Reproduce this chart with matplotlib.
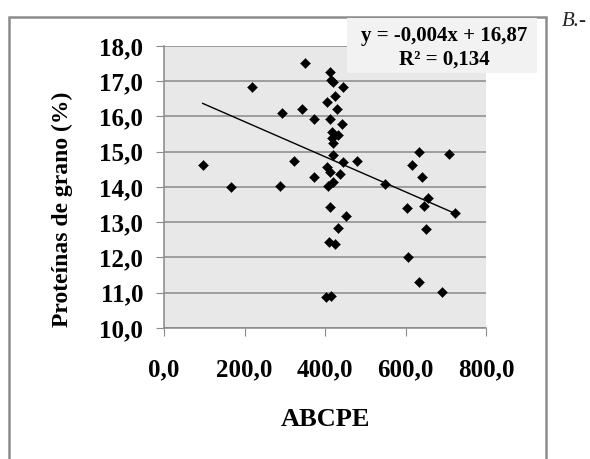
"""Proteínas de grano vs ABCPE, dispersión con línea de tendencia (panel B)."""

import matplotlib
matplotlib.use("Agg")
import matplotlib.pyplot as plt
import numpy as np
from matplotlib.patches import Rectangle
from matplotlib.ticker import FuncFormatter, MultipleLocator

# valores
abcpe = [96, 166, 218, 288, 294, 323, 342, 350, 373, 373,
         402, 404, 404, 408, 410, 412, 412, 412, 412, 414,
         415, 417, 417, 419, 421, 421, 421, 425, 425, 429,
         431, 433, 436, 441, 444, 445, 451, 480, 549, 604,
         607, 617, 634, 634, 642, 646, 650, 657, 690, 708, 723]
proteinas = [14.63, 14.01, 16.85, 14.04, 16.09, 14.74, 16.20, 17.51, 15.93, 14.27,
             10.87, 16.42, 14.58, 14.03, 12.45, 17.27, 15.93, 14.43, 13.42, 10.91,
             17.04, 15.57, 15.38, 16.99, 15.24, 14.91, 14.15, 16.59, 12.38, 16.20,
             12.83, 15.48, 14.37, 15.79, 16.85, 14.72, 13.18, 14.75, 14.09, 13.40,
             12.01, 14.63, 15.00, 11.31, 14.28, 13.46, 12.81, 13.68, 11.01, 14.93, 13.25]

# línea de tendencia tal como se ve dibujada (la ecuación impresa está redondeada)
trend_slope = -0.00498
trend_intercept = 16.85

eq_text = "y = -0,004x + 16,87\nR² = 0,134"
serif = ["Liberation Serif", "DejaVu Serif"]


def coma(v, _pos):
    return f"{v:.1f}".replace(".", ",")


def main() -> None:
    x = np.array(abcpe, dtype=float)
    y = np.array(proteinas, dtype=float)

    fig = plt.figure(figsize=(5.9, 4.59), dpi=100)
    # marco exterior del gráfico
    fig.patches.append(Rectangle((0.0153, -0.02), 0.910, 0.983, transform=fig.transFigure,
                                 facecolor="none", edgecolor="#8c8c8c", lw=1.8))

    ax = fig.add_axes([0.278, 0.2854, 0.5458, 0.6144])
    ax.set_facecolor("#e8e8e8")
    ax.scatter(x, y, marker="D", s=26, color="black", zorder=3, linewidths=0.3)

    xs = np.array([x.min(), x.max()])
    ax.plot(xs, trend_slope * xs + trend_intercept, color="black", lw=1.0, zorder=2)

    ax.set_xlim(0, 800)
    ax.set_ylim(10, 18)
    ax.xaxis.set_major_locator(MultipleLocator(200))
    ax.yaxis.set_major_locator(MultipleLocator(1))
    ax.xaxis.set_major_formatter(FuncFormatter(coma))
    ax.yaxis.set_major_formatter(FuncFormatter(coma))
    ax.grid(axis="y", color="#8a8a8a", lw=1.1)
    ax.set_axisbelow(True)
    for s in ("top", "right"):
        ax.spines[s].set_visible(False)
    for s in ("left", "bottom"):
        ax.spines[s].set_color("#8a8a8a")
        ax.spines[s].set_linewidth(1.1)
    ax.tick_params(axis="x", direction="out", length=6, color="#8a8a8a", pad=16)
    ax.tick_params(axis="y", direction="out", length=6, color="#8a8a8a", pad=9)
    for lab in ax.get_xticklabels() + ax.get_yticklabels():
        lab.set_family(serif)
        lab.set_fontweight("bold")
        lab.set_fontsize(18)

    fig.text(62 / 590, 1 - 209 / 459, "Proteínas de grano (%)", rotation=90,
             ha="center", va="center", family=serif, fontweight="bold", fontsize=17)
    fig.text(325 / 590, 1 - 419 / 459, "ABCPE", ha="center", va="center",
             family=serif, fontweight="bold", fontsize=19)

    # cuadro de la ecuación
    fig.patches.append(Rectangle((347 / 590, 1 - 73 / 459), 190 / 590, 55 / 459,
                                 transform=fig.transFigure, facecolor="#f2f2f2",
                                 edgecolor="none", zorder=5))
    fig.text(444 / 590, 1 - 48 / 459, eq_text, ha="center", va="center",
             family=serif, fontweight="bold", fontsize=15, linespacing=1.2, zorder=6)

    fig.text(562 / 590, 1 - 22 / 459, "B.-", ha="left", va="center",
             family=serif, style="italic", fontsize=15, color="#222222")

    fig.savefig("out.png", dpi=100)


if __name__ == "__main__":
    main()
